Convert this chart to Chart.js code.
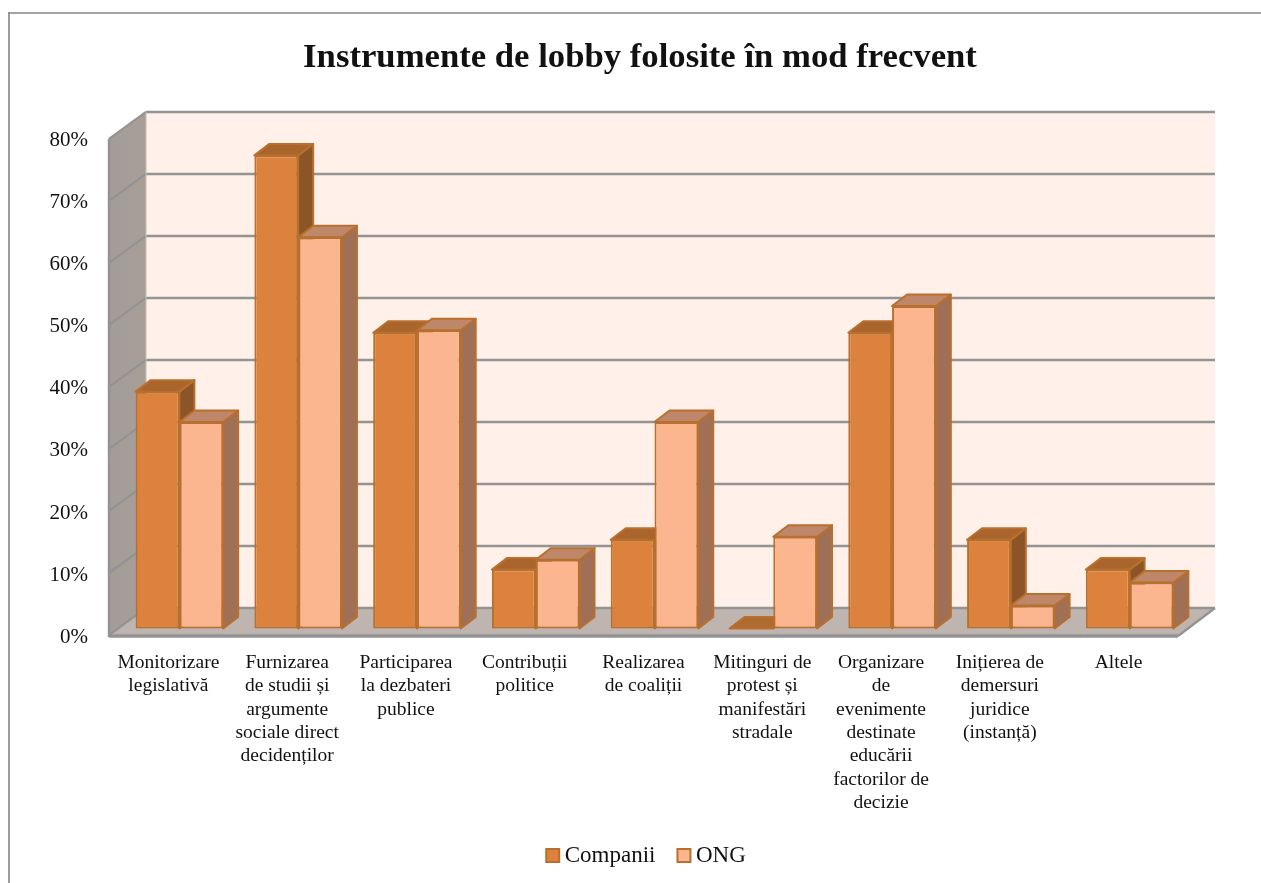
<!DOCTYPE html>
<html>
<head>
<meta charset="utf-8">
<title>Instrumente de lobby</title>
<script src="https://cdn.jsdelivr.net/npm/chart.js@4/dist/chart.umd.min.js"></script>
<style>
  html, body { margin: 0; height: 100%; overflow: hidden; background: #fff; }
  #lobbyChart { position: absolute; left: 8px; top: 12px; }
</style>
</head>
<body>
<canvas id="lobbyChart" width="1264" height="900"></canvas>
<script>
var categories = [
  ["Monitorizare", "legislativă"],
  ["Furnizarea", "de studii și", "argumente", "sociale direct", "decidenților"],
  ["Participarea", "la dezbateri", "publice"],
  ["Contribuții", "politice"],
  ["Realizarea", "de coaliții"],
  ["Mitinguri de", "protest și", "manifestări", "stradale"],
  ["Organizare", "de", "evenimente", "destinate", "educării", "factorilor de", "decizie"],
  ["Inițierea de", "demersuri", "juridice", "(instanță)"],
  ["Altele"]
];
var companiiValues = [38.2, 76.3, 47.7, 9.5, 14.3, 0, 47.7, 14.3, 9.5];
var ongValues = [33.3, 63.1, 48.1, 11.1, 33.3, 14.8, 52, 3.7, 7.4];

var serif = "'Liberation Serif', serif";
var wall = { dx: 37, dy: -27 };      // depth of the whole plot box
var barShift = { dx: 11, dy: -6.5 }; // where bars stand on the floor
var barDepth = { dx: 15, dy: -11.5 };

var faces = [
  { top: "#a9652c", side: "#8c5527", flat: "#b06c30" },
  { top: "#be8769", side: "#a07056", flat: "#be8769" }
];
var edgeColor = "#b96f2d";
var lineColor = "#939393";

function poly(ctx, pts, fill, stroke, width) {
  ctx.beginPath();
  pts.forEach(function (p, i) {
    if (i === 0) ctx.moveTo(p[0], p[1]);
    else ctx.lineTo(p[0], p[1]);
  });
  ctx.closePath();
  if (fill) { ctx.fillStyle = fill; ctx.fill(); }
  if (stroke) {
    ctx.strokeStyle = stroke;
    ctx.lineWidth = width;
    ctx.lineJoin = "round";
    ctx.stroke();
  }
}

function line(ctx, x1, y1, x2, y2, color, width) {
  ctx.beginPath();
  ctx.moveTo(x1, y1);
  ctx.lineTo(x2, y2);
  ctx.strokeStyle = color;
  ctx.lineWidth = width;
  ctx.stroke();
}

var frame3d = {
  id: "frame3d",
  afterLayout: function (chart) {
    // title and legend are centred on the whole frame, not the padded part
    chart.titleBlock.left += 47;
    chart.titleBlock.right += 47;
    chart.legend.left += 56;
    chart.legend.right += 56;
  },
  beforeDraw: function (chart) {
    var ctx = chart.ctx;
    ctx.save();
    ctx.fillStyle = "#fff";
    ctx.fillRect(0, 0, chart.width, chart.height);
    line(ctx, 1, 0, 1, chart.height, "#868686", 1.6);
    line(ctx, 0, 1, chart.width, 1, "#868686", 1.6);
    ctx.restore();
  },
  beforeDatasetsDraw: function (chart) {
    var ctx = chart.ctx;
    var a = chart.chartArea;
    var y = chart.scales.y;
    var l = a.left, r = a.right, t = a.top, b = a.bottom;

    ctx.save();
    // back wall
    poly(ctx, [[l + wall.dx, t + wall.dy], [r + wall.dx, t + wall.dy], [r + wall.dx, b + wall.dy], [l + wall.dx, b + wall.dy]], "#fff0e9");
    // left wall
    var g = ctx.createLinearGradient(l, 0, l + wall.dx, 0);
    g.addColorStop(0, "#a39c97");
    g.addColorStop(1, "#a89e98");
    poly(ctx, [[l, t], [l + wall.dx, t + wall.dy], [l + wall.dx, b + wall.dy], [l, b]], g);
    // floor
    poly(ctx, [[l, b], [r, b], [r + wall.dx, b + wall.dy], [l + wall.dx, b + wall.dy]], "#bfb5b0");

    // grid lines, back wall and left wall
    y.ticks.forEach(function (tick) {
      var py = y.getPixelForValue(tick.value);
      line(ctx, l + wall.dx, py + wall.dy, r + wall.dx, py + wall.dy, lineColor, 2.6);
      line(ctx, l, py, l + wall.dx, py + wall.dy, lineColor, 2.2);
    });
    line(ctx, l, t, l, b + 2, lineColor, 2.4);
    line(ctx, l + wall.dx, t + wall.dy, l + wall.dx, b + wall.dy, "#c4bdb9", 1);
    line(ctx, l, b + 1, r, b + 1, lineColor, 3.4);
    line(ctx, r, b + 1, r + wall.dx, b + wall.dy, lineColor, 2.4);

    // tops and sides of bars, native fronts get drawn after this
    ctx.translate(barShift.dx, barShift.dy);
    chart.data.datasets.forEach(function (ds, di) {
      chart.getDatasetMeta(di).data.forEach(function (bar, i) {
        var left = bar.x - bar.width / 2;
        var right = bar.x + bar.width / 2;
        var dx = barDepth.dx, dy = barDepth.dy;
        var top = bar.y, base = bar.base;
        var topFill = ds.data[i] === 0 ? faces[di].flat : faces[di].top;
        if (ds.data[i] > 0) {
          poly(ctx, [[right, top], [right + dx, top + dy], [right + dx, base + dy], [right, base]], faces[di].side, edgeColor, 2);
        }
        poly(ctx, [[left, top], [right, top], [right + dx, top + dy], [left + dx, top + dy]], topFill, edgeColor, 2);
      });
    });
  },
  afterDatasetsDraw: function (chart) {
    chart.ctx.restore();
  }
};

new Chart("lobbyChart", {
  type: "bar",
  data: {
    labels: categories,
    datasets: [
      {
        label: "Companii",
        data: companiiValues,
        backgroundColor: "#dc823c",
        borderColor: edgeColor,
        borderWidth: 2,
        borderSkipped: false,
        clip: false
      },
      {
        label: "ONG",
        data: ongValues,
        backgroundColor: "#fbb58f",
        borderColor: edgeColor,
        borderWidth: 2,
        borderSkipped: false,
        clip: false
      }
    ]
  },
  plugins: [frame3d],
  options: {
    responsive: false,
    animation: false,
    devicePixelRatio: 1,
    categoryPercentage: 0.737,
    barPercentage: 1,
    layout: { padding: { left: 0, right: 94, top: 0, bottom: 35 } },
    scales: {
      x: {
        offset: true,
        grid: { display: false },
        border: { display: false },
        afterFit: function (scale) { scale.height = 181; },
        ticks: {
          autoSkip: false,
          maxRotation: 0,
          padding: 8,
          color: "#111",
          font: { family: serif, size: 19.5, lineHeight: 1.2 }
        }
      },
      y: {
        min: 0,
        max: 80,
        grid: { display: false },
        border: { display: false },
        afterFit: function (scale) { scale.width = 101; },
        ticks: {
          stepSize: 10,
          padding: 13,
          labelOffset: 2,
          color: "#111",
          font: { family: serif, size: 21 },
          callback: function (v) { return v + "%"; }
        }
      }
    },
    plugins: {
      title: {
        display: true,
        text: "Instrumente de lobby folosite în mod frecvent",
        color: "#111",
        font: { family: serif, size: 34.7, weight: "bold", lineHeight: 1.2 },
        padding: { top: 25, bottom: 60.3 }
      },
      legend: {
        position: "bottom",
        labels: {
          color: "#111",
          font: { family: serif, size: 23 },
          usePointStyle: true,
          pointStyle: "rect",
          boxWidth: 1,
          boxHeight: 13,
          padding: 28
        }
      },
      tooltip: { enabled: false }
    }
  }
});
</script>
</body>
</html>
